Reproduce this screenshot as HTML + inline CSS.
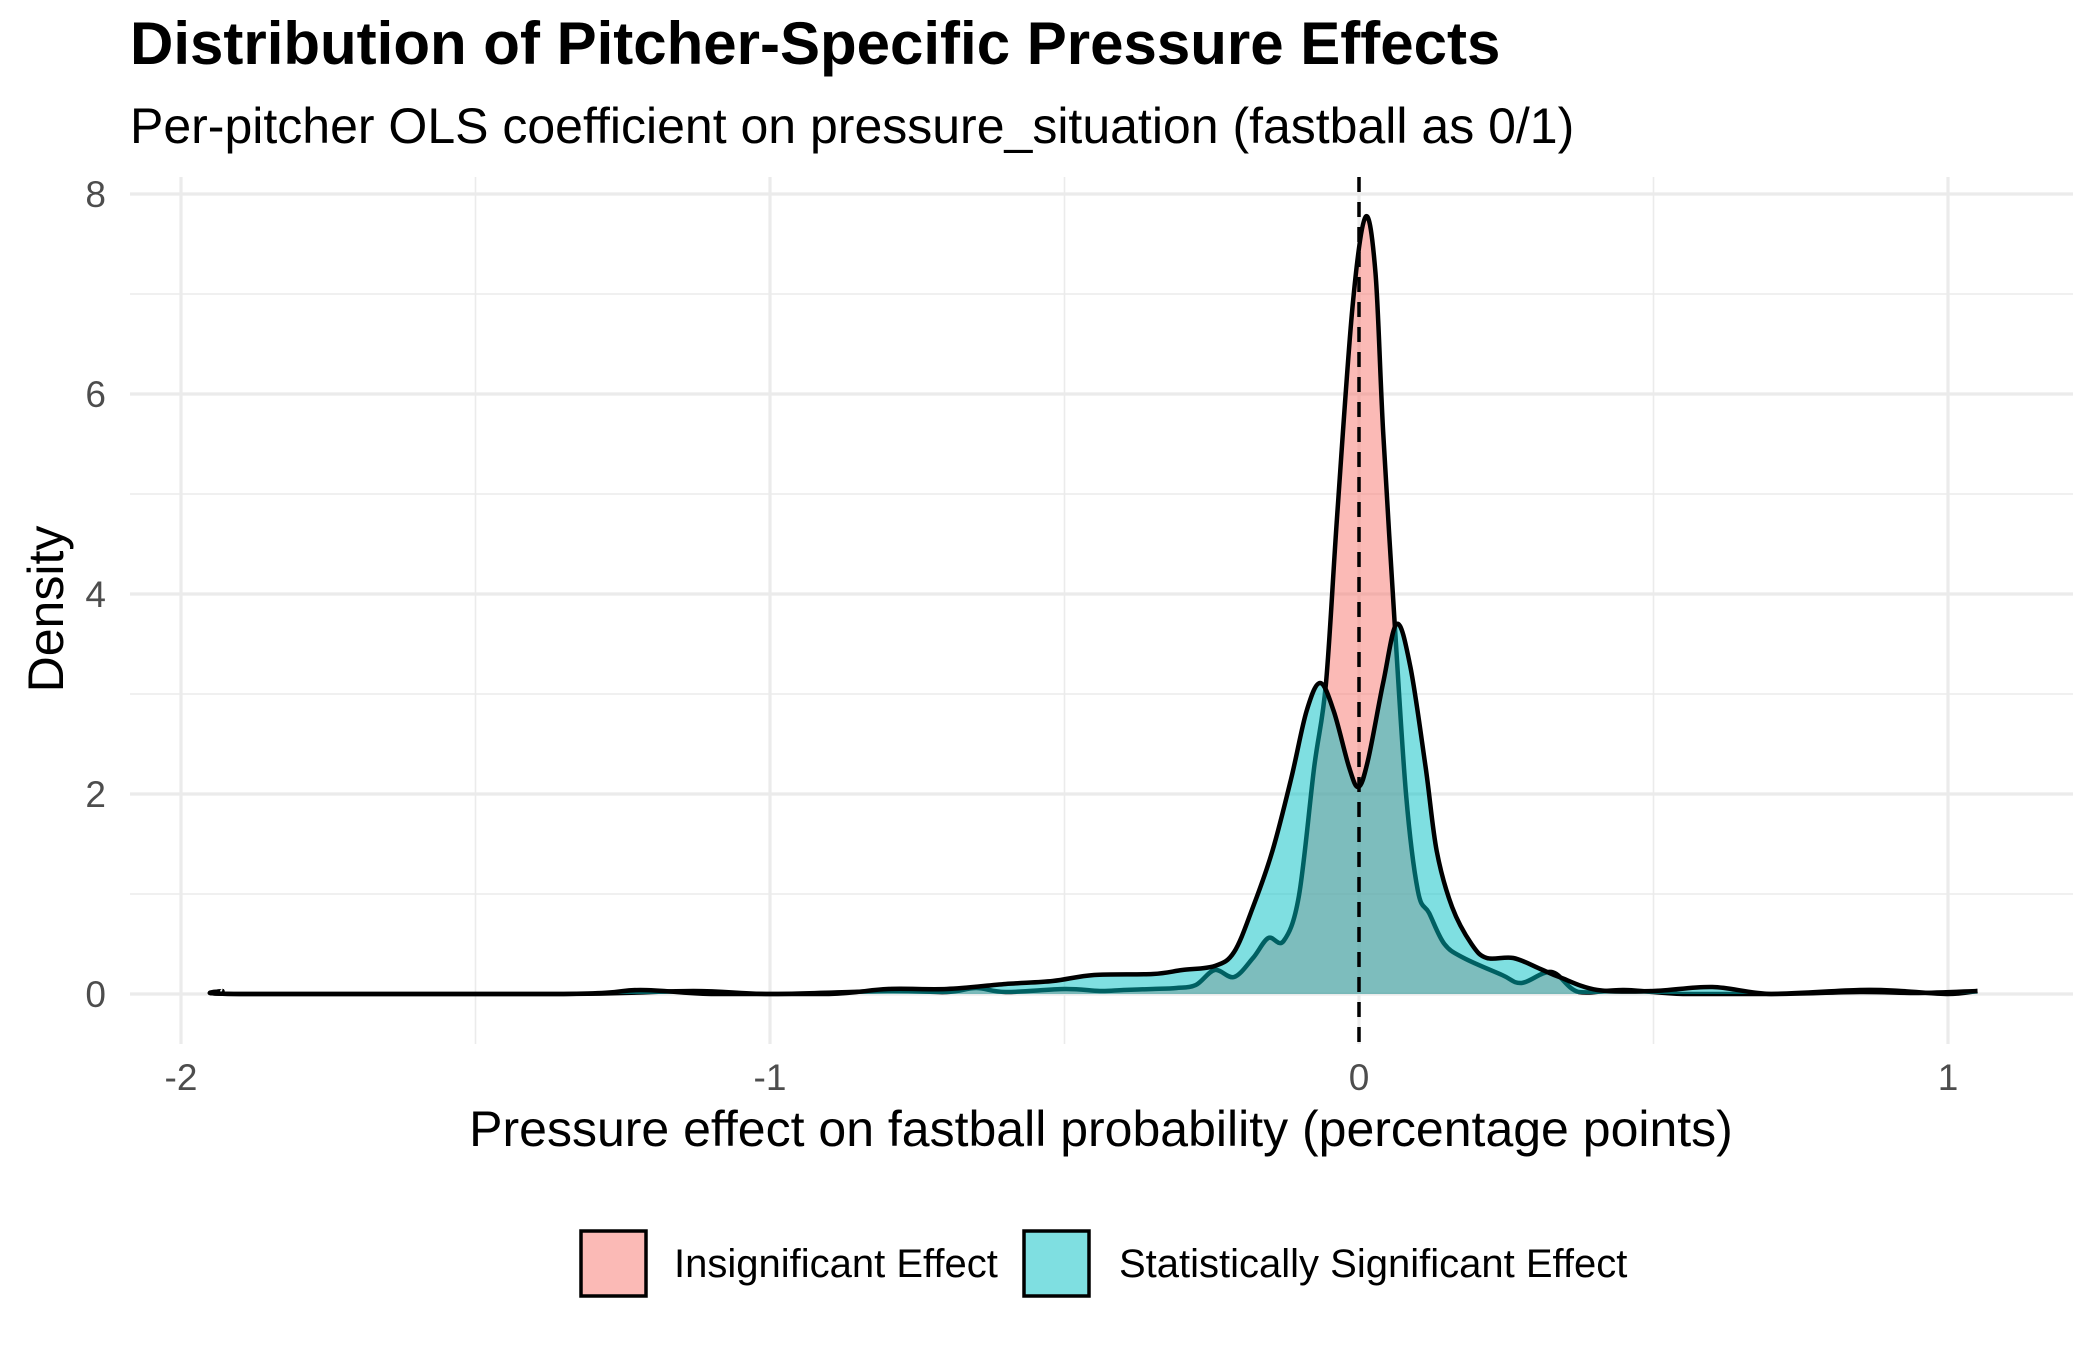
<!DOCTYPE html>
<html><head><meta charset="utf-8"><style>
body{margin:0;background:#fff;}
svg{display:block;font-family:"Liberation Sans",sans-serif;}
</style></head><body>
<svg id="chart" width="2100" height="1350" viewBox="0 0 2100 1350" xmlns="http://www.w3.org/2000/svg">
<rect width="2100" height="1350" fill="#fff"/>
<text x="130" y="64" font-size="60" font-weight="bold" fill="#000">Distribution of Pitcher-Specific Pressure Effects</text>
<text x="130" y="143" font-size="50" fill="#000">Per-pitcher OLS coefficient on pressure_situation (fastball as 0/1)</text>
<g id="grid"></g>
<g id="marks"></g>
<g id="axes"></g>
<text x="1101" y="1146" font-size="50" text-anchor="middle" fill="#000">Pressure effect on fastball probability (percentage points)</text>
<text transform="translate(63,609) rotate(-90)" font-size="50" text-anchor="middle" fill="#000">Density</text>
<g>
  <g>
    <rect x="581" y="1231" width="65" height="65" fill="#F8766D" fill-opacity="0.5" stroke="#000" stroke-width="3.5"/>
    <text x="674" y="1277" font-size="40" fill="#000">Insignificant Effect</text>
  </g>
  <g>
    <rect x="1024" y="1231" width="65" height="65" fill="#00BFC4" fill-opacity="0.5" stroke="#000" stroke-width="3.5"/>
    <text x="1119" y="1277" font-size="40" fill="#000">Statistically Significant Effect</text>
  </g>
</g>
</svg>
<script>
const insigX = [-1.93,-1.9,-1.35,-1.13,-1.0,-0.8,-0.7,-0.65,-0.6,-0.5,-0.44,-0.4,-0.35,-0.31,-0.277,-0.245,-0.212,-0.18,-0.154,-0.128,-0.102,-0.076,-0.056,-0.037,-0.011,0.011,0.028,0.041,0.061,0.08,0.1,0.119,0.145,0.178,0.243,0.276,0.327,0.373,0.45,0.55,0.7,0.85,0.92,1.0,1.05];
const insigY = [0.03,0,0,0.03,0,0.03,0.02,0.06,0.02,0.05,0.03,0.04,0.05,0.06,0.09,0.24,0.17,0.36,0.56,0.53,0.98,2.27,3.11,4.79,6.87,7.77,7.21,5.63,3.67,1.99,1.03,0.81,0.5,0.36,0.19,0.11,0.22,0.02,0.04,0,0,0.04,0.03,0,0.03];
const sigX = [-1.93,-1.9,-1.35,-1.22,-1.1,-0.9,-0.8,-0.7,-0.6,-0.52,-0.45,-0.35,-0.3,-0.245,-0.212,-0.18,-0.147,-0.115,-0.089,-0.066,-0.043,-0.017,-0.001,0.015,0.041,0.064,0.087,0.113,0.132,0.158,0.191,0.217,0.262,0.308,0.34,0.405,0.5,0.6,0.7,0.85,0.95,1.05];
const sigY = [0.03,0,0,0.04,0,0,0.05,0.05,0.1,0.13,0.19,0.2,0.24,0.28,0.42,0.87,1.43,2.16,2.83,3.11,2.83,2.27,2.07,2.33,3.11,3.7,3.28,2.27,1.43,0.87,0.5,0.36,0.36,0.25,0.17,0.04,0.03,0.07,0,0.02,0.01,0.03];
const xTicks = [-2,-1,0,1];
const xTickLabels = ["-2","-1","0","1"];
const xMinor = [-1.5,-0.5,0.5];
const yTicks = [0,2,4,6,8];
const yTickLabels = ["0","2","4","6","8"];
const yMinor = [1,3,5,7];

const NS = "http://www.w3.org/2000/svg";
const L = 130, R = 2073, T = 177, B = 1044;
function sx(v){ return 1359 + v * 589; }
function sy(v){ return 994 - v * 100; }
function mk(tag, attrs, parent){ const e = document.createElementNS(NS, tag); for (const k in attrs) e.setAttribute(k, attrs[k]); parent.appendChild(e); return e; }
const grid = document.getElementById('grid'), marks = document.getElementById('marks'), axes = document.getElementById('axes');
yMinor.forEach(v => { const l = mk('line', {x1:L, x2:R, y1:sy(v), y2:sy(v), stroke:'#ebebeb', 'stroke-width':1.6}, grid);
  
   });
xMinor.forEach(v => { const l = mk('line', {x1:sx(v), x2:sx(v), y1:T, y2:B, stroke:'#ebebeb', 'stroke-width':1.6}, grid);
  
   });
yTicks.forEach((v, i) => { const l = mk('line', {x1:L, x2:R, y1:sy(v), y2:sy(v), stroke:'#ebebeb', 'stroke-width':3.2}, grid);
  
  
  const t = mk('text', {x:106, y:sy(v)+13, 'font-size':37, fill:'#4d4d4d', 'text-anchor':'end'}, axes);
  t.textContent = yTickLabels[i];
  
   });
xTicks.forEach((v, i) => { const l = mk('line', {x1:sx(v), x2:sx(v), y1:T, y2:B, stroke:'#ebebeb', 'stroke-width':3.2}, grid);
  
  
  const t = mk('text', {x:sx(v), y:1090, 'font-size':37, fill:'#4d4d4d', 'text-anchor':'middle'}, axes);
  t.textContent = xTickLabels[i];
  
   });
function smooth(xs, ys){
  const p = xs.map((x, i) => [sx(x), sy(ys[i])]);
  let d = 'M' + p[0][0].toFixed(1) + ',' + p[0][1].toFixed(1);
  for (let i = 0; i < p.length - 1; i++) {
    const p0 = p[i-1] || p[i], p1 = p[i], p2 = p[i+1], p3 = p[i+2] || p2;
    const c1x = p1[0] + (p2[0]-p0[0])/6, c1y = Math.min(sy(0), p1[1] + (p2[1]-p0[1])/6);
    const c2x = p2[0] - (p3[0]-p1[0])/6, c2y = Math.min(sy(0), p2[1] - (p3[1]-p1[1])/6);
    d += ' C' + c1x.toFixed(1) + ',' + c1y.toFixed(1) + ' ' + c2x.toFixed(1) + ',' + c2y.toFixed(1) + ' ' + p2[0].toFixed(1) + ',' + p2[1].toFixed(1);
  }
  return d;
}
function areaPath(xs, ys){
  return 'M' + sx(xs[0]) + ',' + sy(0) + ' L' + smooth(xs, ys).slice(1) + ' L' + sx(xs[xs.length-1]) + ',' + sy(0) + ' Z';
}
const a1 = mk('path', {d:areaPath(insigX, insigY), fill:'#F8766D', 'fill-opacity':0.5, stroke:'none'}, marks);


const l1 = mk('path', {d:smooth(insigX, insigY), fill:'none', stroke:'#000', 'stroke-width':4.5, 'stroke-linejoin':'round'}, marks);


const a2 = mk('path', {d:areaPath(sigX, sigY), fill:'#00BFC4', 'fill-opacity':0.5, stroke:'none'}, marks);


const l2 = mk('path', {d:smooth(sigX, sigY), fill:'none', stroke:'#000', 'stroke-width':4.5, 'stroke-linejoin':'round'}, marks);


const zl = mk('line', {x1:sx(0), x2:sx(0), y1:T, y2:B, stroke:'#000', 'stroke-width':3.5, 'stroke-dasharray':'15,10'}, marks);


</script>
</body></html>
